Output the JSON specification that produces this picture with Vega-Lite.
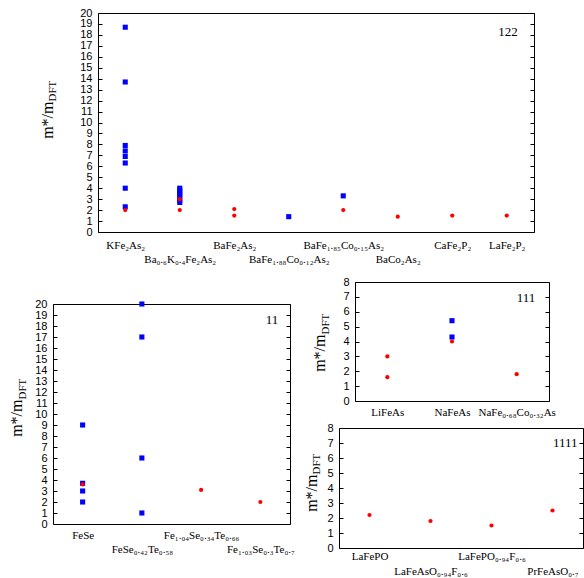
{
  "$schema": "https://vega.github.io/schema/vega-lite/v6.json",
  "padding": {"left": 4, "top": 3, "right": 0, "bottom": 0},
  "config": {
    "view": {"stroke": "#000", "strokeWidth": 1},
    "axis": {"labelColor": "#000", "tickColor": "#000", "titleColor": "#000", "grid": false, "domain": false, "titleFontWeight": "normal", "labelOverlap": false}
  },
  "datasets": {
    "p122": [
      {"compound": "KFe₂As₂", "mass": 18.7, "series": "1"},
      {"compound": "KFe₂As₂", "mass": 13.7, "series": "1"},
      {"compound": "KFe₂As₂", "mass": 7.9, "series": "1"},
      {"compound": "KFe₂As₂", "mass": 7.4, "series": "1"},
      {"compound": "KFe₂As₂", "mass": 6.9, "series": "1"},
      {"compound": "KFe₂As₂", "mass": 6.3, "series": "1"},
      {"compound": "KFe₂As₂", "mass": 4.0, "series": "1"},
      {"compound": "KFe₂As₂", "mass": 2.3, "series": "1"},
      {"compound": "Ba₀.₆K₀.₄Fe₂As₂", "mass": 4.0, "series": "1"},
      {"compound": "Ba₀.₆K₀.₄Fe₂As₂", "mass": 3.8, "series": "1"},
      {"compound": "Ba₀.₆K₀.₄Fe₂As₂", "mass": 3.6, "series": "1"},
      {"compound": "Ba₀.₆K₀.₄Fe₂As₂", "mass": 3.4, "series": "1"},
      {"compound": "Ba₀.₆K₀.₄Fe₂As₂", "mass": 3.2, "series": "1"},
      {"compound": "Ba₀.₆K₀.₄Fe₂As₂", "mass": 2.9, "series": "1"},
      {"compound": "Ba₀.₆K₀.₄Fe₂As₂", "mass": 2.7, "series": "1"},
      {"compound": "BaFe₁.₈₈Co₀.₁₂As₂", "mass": 1.4, "series": "1"},
      {"compound": "BaFe₁.₈₅Co₀.₁₅As₂", "mass": 3.3, "series": "1"},
      {"compound": "KFe₂As₂", "mass": 2.0, "series": "2"},
      {"compound": "Ba₀.₆K₀.₄Fe₂As₂", "mass": 3.0, "series": "2"},
      {"compound": "Ba₀.₆K₀.₄Fe₂As₂", "mass": 2.0, "series": "2"},
      {"compound": "BaFe₂As₂", "mass": 2.1, "series": "2"},
      {"compound": "BaFe₂As₂", "mass": 1.5, "series": "2"},
      {"compound": "BaFe₁.₈₅Co₀.₁₅As₂", "mass": 2.0, "series": "2"},
      {"compound": "BaCo₂As₂", "mass": 1.4, "series": "2"},
      {"compound": "CaFe₂P₂", "mass": 1.5, "series": "2"},
      {"compound": "LaFe₂P₂", "mass": 1.5, "series": "2"}
    ],
    "p11": [
      {"compound": "FeSe", "mass": 9.0, "series": "1"},
      {"compound": "FeSe", "mass": 3.7, "series": "1"},
      {"compound": "FeSe", "mass": 3.0, "series": "1"},
      {"compound": "FeSe", "mass": 2.0, "series": "1"},
      {"compound": "FeSe₀.₄₂Te₀.₅₈", "mass": 20.0, "series": "1"},
      {"compound": "FeSe₀.₄₂Te₀.₅₈", "mass": 17.0, "series": "1"},
      {"compound": "FeSe₀.₄₂Te₀.₅₈", "mass": 6.0, "series": "1"},
      {"compound": "FeSe₀.₄₂Te₀.₅₈", "mass": 1.0, "series": "1"},
      {"compound": "FeSe", "mass": 3.6, "series": "2"},
      {"compound": "Fe₁.₀₄Se₀.₃₄Te₀.₆₆", "mass": 3.1, "series": "2"},
      {"compound": "Fe₁.₀₃Se₀.₃Te₀.₇", "mass": 2.0, "series": "2"}
    ],
    "p111": [
      {"compound": "NaFeAs", "mass": 5.4, "series": "1"},
      {"compound": "NaFeAs", "mass": 4.3, "series": "1"},
      {"compound": "LiFeAs", "mass": 3.0, "series": "2"},
      {"compound": "LiFeAs", "mass": 1.6, "series": "2"},
      {"compound": "NaFeAs", "mass": 4.0, "series": "2"},
      {"compound": "NaFe₀.₆₈Co₀.₃₂As", "mass": 1.8, "series": "2"}
    ],
    "p1111": [
      {"compound": "LaFePO", "mass": 2.2, "series": "2"},
      {"compound": "LaFeAsO₀.₉₄F₀.₆", "mass": 1.8, "series": "2"},
      {"compound": "LaFePO₀.₉₄F₀.₆", "mass": 1.5, "series": "2"},
      {"compound": "PrFeAsO₀.₇", "mass": 2.5, "series": "2"}
    ]
  },
  "spacing": 8,
  "vconcat": [
    {
      "spacing": -49,
      "hconcat": [
        {"width": 1, "height": 1, "view": {"stroke": null}, "data": {"values": [{}]}, "mark": {"type": "point", "size": 0, "opacity": 0}},
        {
          "width": 436, "height": 219,
          "layer": [
            {
              "data": {"name": "p122"},
              "mark": {"type": "point", "filled": true, "opacity": 1, "strokeWidth": 0},
              "encoding": {
                "x": {"field": "compound", "type": "nominal", "sort": null,
                  "scale": {"type": "point", "padding": 0.5, "domain": ["KFe₂As₂", "Ba₀.₆K₀.₄Fe₂As₂", "BaFe₂As₂", "BaFe₁.₈₈Co₀.₁₂As₂", "BaFe₁.₈₅Co₀.₁₅As₂", "BaCo₂As₂", "CaFe₂P₂", "LaFe₂P₂"]},
                  "axis": {"labelExpr": "indexof(['Ba₀.₆K₀.₄Fe₂As₂', 'BaFe₁.₈₈Co₀.₁₂As₂', 'BaCo₂As₂'], datum.value) >= 0 ? ['', datum.label] : datum.label",
                    "labelAngle": 0, "labelFont": "Liberation Serif", "labelFontSize": 11, "labelLineHeight": 14, "labelBaseline": "top", "labelPadding": 7, "ticks": false,
                    "title": " ", "titleX": -92, "titleY": -228, "titleAlign": "left", "titleBaseline": "top", "titleFontSize": 2, "titleAngle": 0}},
                "y": {"field": "mass", "type": "quantitative", "scale": {"domain": [0, 20], "nice": false, "zero": false},
                  "axis": {"orient": "left", "values": [0,1,2,3,4,5,6,7,8,9,10,11,12,13,14,15,16,17,18,19,20], "labelFont": "Liberation Sans", "labelFontSize": 11, "tickSize": -4, "labelPadding": 10,
                    "title": "m*/m", "titleX": -46, "titleY": 88, "titleAngle": 270, "titleAlign": "right", "titleBaseline": "alphabetic", "titleFont": "Liberation Serif", "titleFontSize": 16}},
                "color": {"field": "series", "type": "nominal", "scale": {"domain": ["1", "2"], "range": ["#0000ff", "#ff0000"]}, "legend": null},
                "shape": {"field": "series", "type": "nominal", "scale": {"domain": ["1", "2"], "range": ["square", "circle"]}, "legend": null},
                "size": {"field": "series", "type": "nominal", "scale": {"domain": ["1", "2"], "range": [26, 18]}, "legend": null}
              }
            },
            {
              "data": {"values": [{"panel": "122"}]},
              "mark": {"type": "text", "font": "Liberation Serif", "fontSize": 13, "align": "right", "baseline": "alphabetic", "dx": 11, "color": "#000"},
              "encoding": {
                "x": {"datum": "LaFe₂P₂", "type": "nominal"},
                "y": {"datum": 17.9, "type": "quantitative",
                  "axis": {"orient": "right", "values": [0,1,2,3,4,5,6,7,8,9,10,11,12,13,14,15,16,17,18,19,20], "labels": false, "tickSize": -4,
                    "title": "DFT", "titleX": -478.5, "titleY": 88, "titleAngle": 270, "titleAlign": "left", "titleBaseline": "alphabetic", "titleFont": "Liberation Serif", "titleFontSize": 11}},
                "text": {"field": "panel"}
              }
            }
          ],
          "resolve": {"axis": {"y": "independent"}}
        }
      ]
    },
    {
      "spacing": 1,
      "hconcat": [
        {
          "spacing": 14,
          "vconcat": [
            {"width": 1, "height": 1, "view": {"stroke": null}, "data": {"values": [{}]}, "mark": {"type": "point", "size": 0, "opacity": 0}},
            {
              "width": 237, "height": 220,
              "layer": [
                {
                  "data": {"name": "p11"},
                  "mark": {"type": "point", "filled": true, "opacity": 1, "strokeWidth": 0},
                  "encoding": {
                    "x": {"field": "compound", "type": "nominal", "sort": null,
                      "scale": {"type": "point", "padding": 0.5, "domain": ["FeSe", "FeSe₀.₄₂Te₀.₅₈", "Fe₁.₀₄Se₀.₃₄Te₀.₆₆", "Fe₁.₀₃Se₀.₃Te₀.₇"]},
                      "axis": {"labelExpr": "indexof(['FeSe₀.₄₂Te₀.₅₈', 'Fe₁.₀₃Se₀.₃Te₀.₇'], datum.value) >= 0 ? ['', datum.label] : datum.label",
                        "labelAngle": 0, "labelFont": "Liberation Serif", "labelFontSize": 11, "labelLineHeight": 14.5, "labelBaseline": "top", "labelPadding": 5, "ticks": false,
                        "title": " ", "titleX": -48, "titleY": -100, "titleAlign": "left", "titleBaseline": "top", "titleFontSize": 2, "titleAngle": 0}},
                    "y": {"field": "mass", "type": "quantitative", "scale": {"domain": [0, 20], "nice": false, "zero": false},
                      "axis": {"orient": "left", "values": [0,1,2,3,4,5,6,7,8,9,10,11,12,13,14,15,16,17,18,19,20], "labelFont": "Liberation Sans", "labelFontSize": 11, "tickSize": -4, "labelPadding": 10,
                        "title": "m*/m", "titleX": -31.5, "titleY": 95, "titleAngle": 270, "titleAlign": "right", "titleBaseline": "alphabetic", "titleFont": "Liberation Serif", "titleFontSize": 16}},
                    "color": {"field": "series", "type": "nominal", "scale": {"domain": ["1", "2"], "range": ["#0000ff", "#ff0000"]}, "legend": null},
                    "shape": {"field": "series", "type": "nominal", "scale": {"domain": ["1", "2"], "range": ["square", "circle"]}, "legend": null},
                    "size": {"field": "series", "type": "nominal", "scale": {"domain": ["1", "2"], "range": [26, 18]}, "legend": null}
                  }
                },
                {
                  "data": {"values": [{"panel": "11"}]},
                  "mark": {"type": "text", "font": "Liberation Serif", "fontSize": 13, "align": "right", "baseline": "alphabetic", "dx": 18, "color": "#000"},
                  "encoding": {
                    "x": {"datum": "Fe₁.₀₃Se₀.₃Te₀.₇", "type": "nominal"},
                    "y": {"datum": 18.2, "type": "quantitative",
                      "axis": {"orient": "right", "values": [0,1,2,3,4,5,6,7,8,9,10,11,12,13,14,15,16,17,18,19,20], "labels": false, "tickSize": -4,
                        "title": "DFT", "titleX": -265, "titleY": 95, "titleAngle": 270, "titleAlign": "left", "titleBaseline": "alphabetic", "titleFont": "Liberation Serif", "titleFontSize": 11}},
                    "text": {"field": "panel"}
                  }
                }
              ],
              "resolve": {"axis": {"y": "independent"}}
            }
          ]
        },
        {
          "spacing": 1,
          "vconcat": [
            {
              "spacing": -42,
              "hconcat": [
                {"width": 1, "height": 1, "view": {"stroke": null}, "data": {"values": [{}]}, "mark": {"type": "point", "size": 0, "opacity": 0}},
                {
                  "width": 194, "height": 119,
                  "layer": [
                    {
                      "data": {"name": "p111"},
                      "mark": {"type": "point", "filled": true, "opacity": 1, "strokeWidth": 0},
                      "encoding": {
                        "x": {"field": "compound", "type": "nominal", "sort": null,
                          "scale": {"type": "point", "padding": 0.5, "domain": ["LiFeAs", "NaFeAs", "NaFe₀.₆₈Co₀.₃₂As"]},
                          "axis": {"labelAngle": 0, "labelFont": "Liberation Serif", "labelFontSize": 11, "labelBaseline": "top", "labelPadding": 5, "ticks": false,
                            "title": " ", "titleX": -56, "titleY": -127, "titleAlign": "left", "titleBaseline": "top", "titleFontSize": 2, "titleAngle": 0}},
                        "y": {"field": "mass", "type": "quantitative", "scale": {"domain": [0, 8], "nice": false, "zero": false},
                          "axis": {"orient": "left", "values": [0,1,2,3,4,5,6,7,8], "labelFont": "Liberation Sans", "labelFontSize": 11, "tickSize": -4, "labelPadding": 10,
                            "title": "m*/m", "titleX": -30.3, "titleY": 52, "titleAngle": 270, "titleAlign": "right", "titleBaseline": "alphabetic", "titleFont": "Liberation Serif", "titleFontSize": 16}},
                        "color": {"field": "series", "type": "nominal", "scale": {"domain": ["1", "2"], "range": ["#0000ff", "#ff0000"]}, "legend": null},
                        "shape": {"field": "series", "type": "nominal", "scale": {"domain": ["1", "2"], "range": ["square", "circle"]}, "legend": null},
                        "size": {"field": "series", "type": "nominal", "scale": {"domain": ["1", "2"], "range": [26, 18]}, "legend": null}
                      }
                    },
                    {
                      "data": {"values": [{"panel": "111"}]},
                      "mark": {"type": "text", "font": "Liberation Serif", "fontSize": 13, "align": "right", "baseline": "alphabetic", "dx": 18.7, "color": "#000"},
                      "encoding": {
                        "x": {"datum": "NaFe₀.₆₈Co₀.₃₂As", "type": "nominal"},
                        "y": {"datum": 6.66, "type": "quantitative",
                          "axis": {"orient": "right", "values": [0,1,2,3,4,5,6,7,8], "labels": false, "tickSize": -4,
                            "title": "DFT", "titleX": -220.8, "titleY": 52, "titleAngle": 270, "titleAlign": "left", "titleBaseline": "alphabetic", "titleFont": "Liberation Serif", "titleFontSize": 11}},
                        "text": {"field": "panel"}
                      }
                    }
                  ],
                  "resolve": {"axis": {"y": "independent"}}
                }
              ]
            },
            {
              "width": 244, "height": 120,
              "layer": [
                {
                  "data": {"name": "p1111"},
                  "mark": {"type": "point", "filled": true, "opacity": 1, "strokeWidth": 0},
                  "encoding": {
                    "x": {"field": "compound", "type": "nominal", "sort": null,
                      "scale": {"type": "point", "padding": 0.5, "domain": ["LaFePO", "LaFeAsO₀.₉₄F₀.₆", "LaFePO₀.₉₄F₀.₆", "PrFeAsO₀.₇"]},
                      "axis": {"labelExpr": "indexof(['LaFeAsO₀.₉₄F₀.₆', 'PrFeAsO₀.₇'], datum.value) >= 0 ? ['', datum.label] : datum.label",
                        "labelAngle": 0, "labelFont": "Liberation Serif", "labelFontSize": 11, "labelLineHeight": 15, "labelBaseline": "top", "labelPadding": 2, "ticks": false,
                        "title": " ", "titleX": -42, "titleY": -128, "titleAlign": "left", "titleBaseline": "top", "titleFontSize": 2, "titleAngle": 0}},
                    "y": {"field": "mass", "type": "quantitative", "scale": {"domain": [0, 8], "nice": false, "zero": false},
                      "axis": {"orient": "left", "values": [0,1,2,3,4,5,6,7,8], "labelFont": "Liberation Sans", "labelFontSize": 11, "tickSize": -4, "labelPadding": 10,
                        "title": "m*/m", "titleX": -23, "titleY": 46, "titleAngle": 270, "titleAlign": "right", "titleBaseline": "alphabetic", "titleFont": "Liberation Serif", "titleFontSize": 16}},
                    "color": {"field": "series", "type": "nominal", "scale": {"domain": ["1", "2"], "range": ["#0000ff", "#ff0000"]}, "legend": null},
                    "shape": {"field": "series", "type": "nominal", "scale": {"domain": ["1", "2"], "range": ["square", "circle"]}, "legend": null},
                    "size": {"field": "series", "type": "nominal", "scale": {"domain": ["1", "2"], "range": [26, 18]}, "legend": null}
                  }
                },
                {
                  "data": {"values": [{"panel": "1111"}]},
                  "mark": {"type": "text", "font": "Liberation Serif", "fontSize": 13, "align": "right", "baseline": "alphabetic", "dx": 25, "color": "#000"},
                  "encoding": {
                    "x": {"datum": "PrFeAsO₀.₇", "type": "nominal"},
                    "y": {"datum": 6.71, "type": "quantitative",
                      "axis": {"orient": "right", "values": [0,1,2,3,4,5,6,7,8], "labels": false, "tickSize": -4,
                        "title": "DFT", "titleX": -263.5, "titleY": 46, "titleAngle": 270, "titleAlign": "left", "titleBaseline": "alphabetic", "titleFont": "Liberation Serif", "titleFontSize": 11}},
                    "text": {"field": "panel"}
                  }
                }
              ],
              "resolve": {"axis": {"y": "independent"}}
            }
          ]
        }
      ]
    }
  ]
}
